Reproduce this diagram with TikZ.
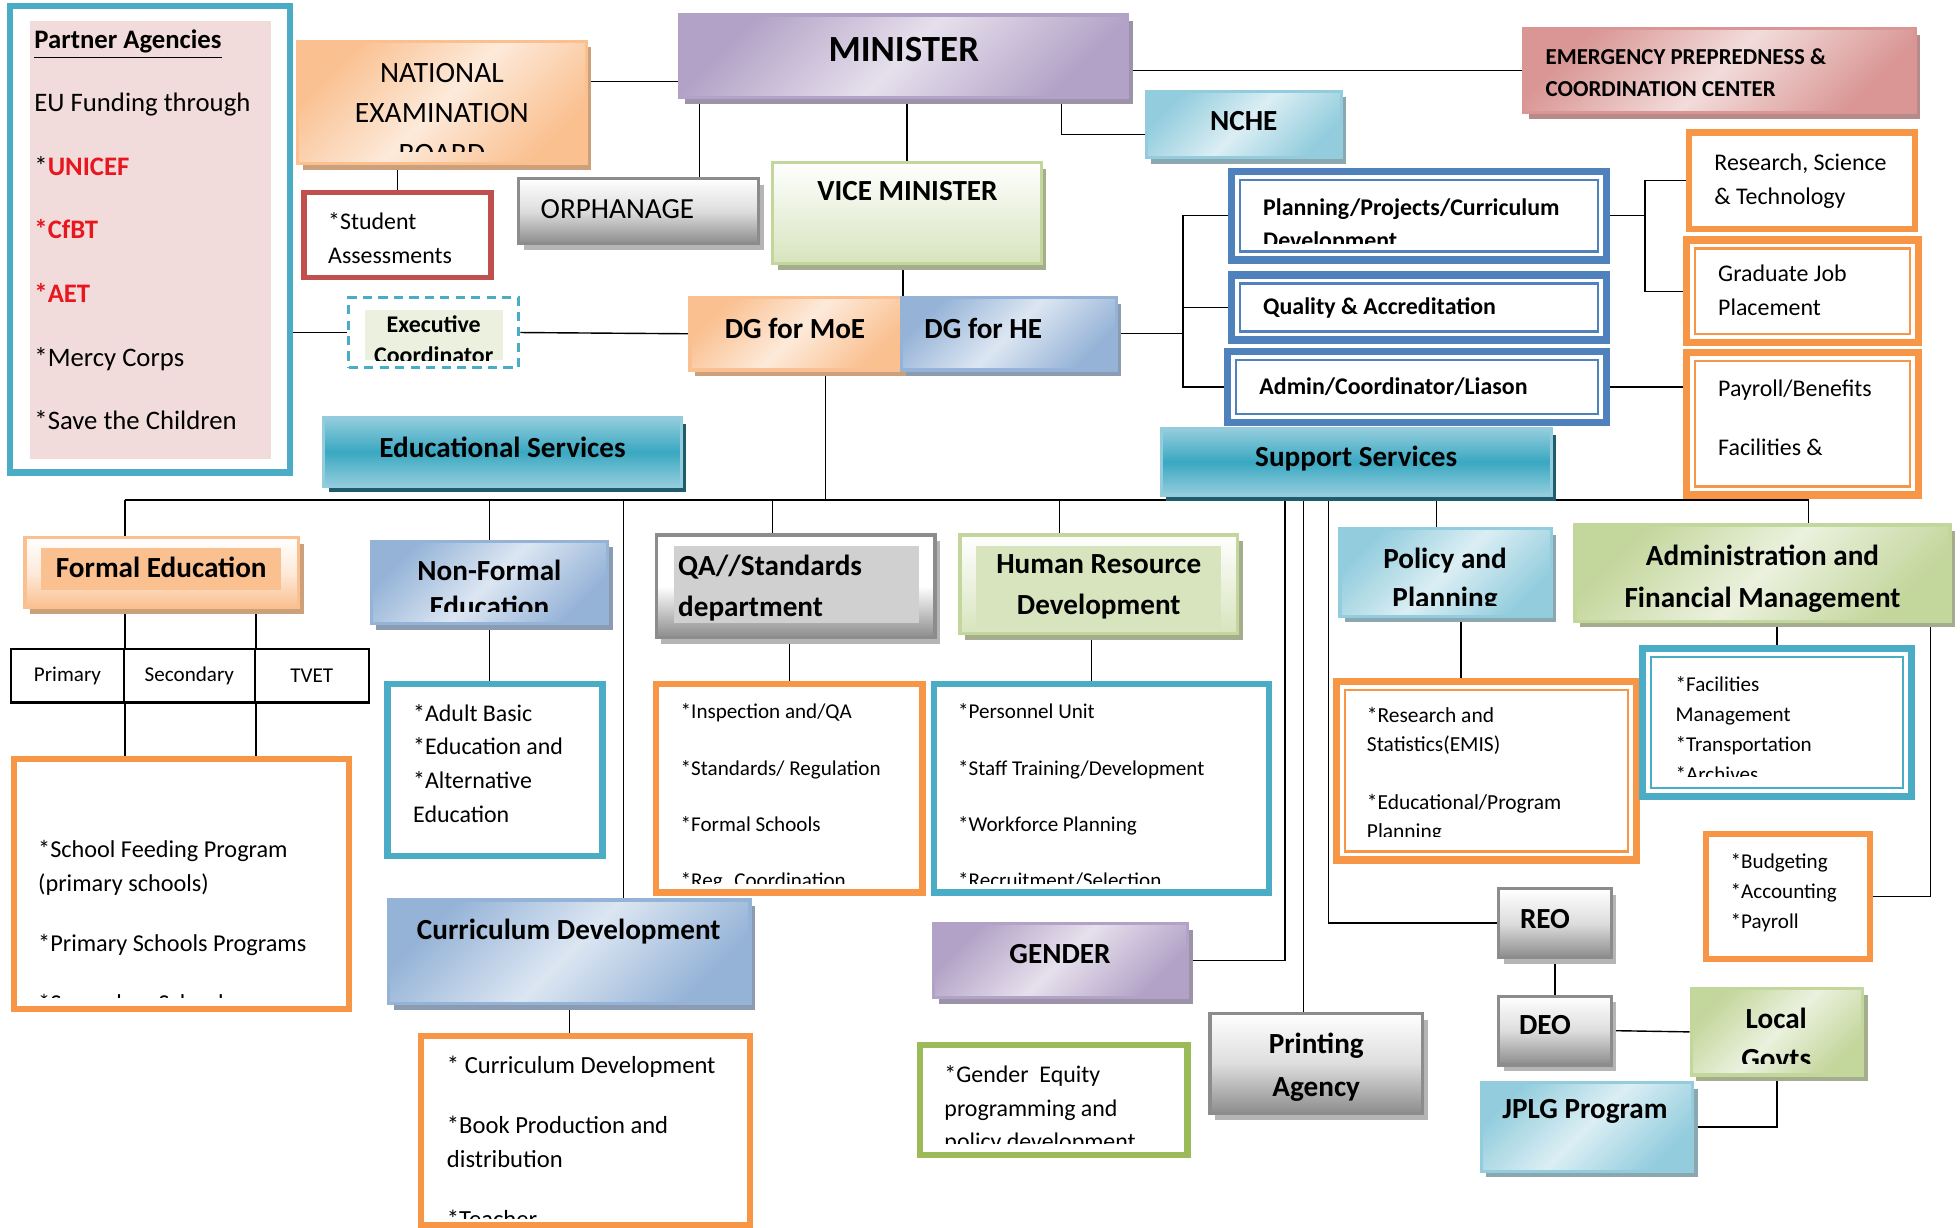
\documentclass[tikz,border=0pt]{standalone}
\usepackage{fontspec}
\setmainfont{Carlito}
\usetikzlibrary{positioning,shadows,backgrounds}

\definecolor{acc1}{HTML}{4F81BD}
\definecolor{acc2}{HTML}{C0504D}
\definecolor{acc3}{HTML}{9BBB59}
\definecolor{acc5}{HTML}{4BACC6}
\definecolor{acc6}{HTML}{F79646}
\definecolor{org1}{HTML}{FAC090}
\definecolor{org2}{HTML}{FDEADA}
\definecolor{orgs}{HTML}{CDA07C}
\definecolor{pur1}{HTML}{B3A2C7}
\definecolor{pur2}{HTML}{E6E0EC}
\definecolor{purs}{HTML}{9D93A9}
\definecolor{grn1}{HTML}{C3D69B}
\definecolor{grn2}{HTML}{EBF1DE}
\definecolor{grn3}{HTML}{D7E4BD}
\definecolor{grns}{HTML}{A4AE8E}
\definecolor{aq1}{HTML}{93CDDD}
\definecolor{aq2}{HTML}{DBEEF4}
\definecolor{aq3}{HTML}{3AA8C1}
\definecolor{aqs}{HTML}{8BA8B1}
\definecolor{aqd}{HTML}{1F5D6C}
\definecolor{blu1}{HTML}{95B3D7}
\definecolor{blu2}{HTML}{DCE6F2}
\definecolor{blus}{HTML}{8A9BB2}
\definecolor{red1}{HTML}{D99694}
\definecolor{red2}{HTML}{F2DCDB}
\definecolor{reds}{HTML}{B78B8A}
\definecolor{gry1}{HTML}{8C8C8C}
\definecolor{gry2}{HTML}{DDDDDD}
\definecolor{gry3}{HTML}{D0D0D0}
\definecolor{grys}{HTML}{B5B5B5}
\definecolor{pinkbg}{HTML}{F2DCDB}
\definecolor{ured}{HTML}{E8161E}

\newcommand\fsz[2]{\fontsize{#1}{#2}\selectfont}

\tikzset{
  bx/.style 2 args={inner sep=0pt, minimum width=#1*0.125mm, minimum height=#2*0.125mm},
  shd/.style={drop shadow={shadow xshift=0.5mm, shadow yshift=-0.6mm, fill=#1, opacity=1}},
  dgrad/.style n args={4}{draw=#1, line width=0.9pt, left color=#2, right color=#2, middle color=#3, shading angle=45, shd=#4},
  vgrad/.style n args={5}{draw=#1, line width=0.9pt, top color=#2, bottom color=#4, middle color=#3, shd=#5},
  obox/.style={draw=#1, line width=1.8pt, fill=white},
  dbox/.style={draw=#1, line width=2.1pt, fill=white,
    path picture={\draw[#1, line width=0.6pt] ([shift={(0.85mm,-0.85mm)}]path picture bounding box.north west) rectangle ([shift={(-0.85mm,0.85mm)}]path picture bounding box.south east);}},
  cell/.style={draw=black, line width=0.6pt, inner sep=0pt, font=\fsz{6}{7}},
  hd/.style={inner sep=0pt, font=\fsz{8.3}{11}\bfseries},
  tl/.style={inner sep=0pt, align=left, anchor=north west},
  tc/.style={inner sep=0pt, align=center, anchor=north}
}

\begin{document}
\begin{tikzpicture}[x=0.125mm, y=-0.125mm, font=\fsz{6.8}{9.6}]
\useasboundingbox (0,0) rectangle (1568,982);

% partner agencies
\node[bx={224}{373}, draw=acc5, line width=1.8pt, fill=white] (partner) at (120,191.5) {};
\node[bx={193}{350}, fill=pinkbg] (pin) at (120.5,192) {};
\node[tl, font=\fsz{7.6}{18.1}] (plist) at (27,22.9) {\underline{\textbf{Partner Agencies}}\\EU Funding through\\{}*\textcolor{ured}{\textbf{UNICEF}}\\\textcolor{ured}{\textbf{*CfBT}}\\\textcolor{ured}{\textbf{*AET}}\\{}*Mercy Corps\\{}*Save the Children};

% top level
\node[bx={231}{98}, dgrad={org1}{org1}{org2}{orgs}] (neb) at (353.5,82) {};
\begin{scope}
  \clip (240,35) rectangle (467,121);
  \node[tc, font=\fsz{8.4}{11.4}] (nebt) at (353.5,50.4) {NATIONAL\\EXAMINATION\\BOARD};
\end{scope}
\node[bx={358}{66}, dgrad={pur1}{pur1}{pur2}{purs}] (min) at (723,45) {};
\node[inner sep=0pt, font=\fsz{10.5}{12}\bfseries] (mint) at (723,40) {MINISTER};
\node[bx={192}{52}, vgrad={gry1}{white}{gry2}{gry1}{grys}] (orph) at (511,169) {};
\node[inner sep=0pt, anchor=west, font=\fsz{8.3}{10}] (orpht) at (432,167) {ORPHANAGE};
\node[bx={215}{81}, vgrad={grn1}{white}{grn2}{grn3}{grns}] (vm) at (725.5,170.5) {};
\node[hd] (vmt) at (726,153) {VICE MINISTER};
\node[bx={150}{68}, obox=acc2, line width=1.6pt] (sa) at (318,188) {};
\node[tl] (sat) at (262,169.7) {*Student\\Assessments};
\node[bx={136}{56}, draw=acc5, line width=0.9pt, dash pattern=on 2.6pt off 1.8pt, fill=white] (exec) at (347,266) {};
\node[bx={110}{40}, fill=grn2] (execin) at (347,268) {};
\begin{scope}
  \clip (292,248) rectangle (402,288);
  \node[tc, font=\fsz{6.8}{8.9}\bfseries] (exect) at (347,251.7) {Executive\\Coordinator};
\end{scope}
\node[bx={169}{58}, dgrad={org1}{org1}{org2}{orgs}] (dgm) at (636.5,267) {};
\node[hd] (dgmt) at (636,263) {DG for MoE};
\node[bx={172}{58}, dgrad={blu1}{blu1}{blu2}{blus}] (dgh) at (807,267) {};
\node[hd, anchor=west] (dght) at (739,263) {DG for HE};
\node[bx={156}{53}, dgrad={aq1}{aq1}{aq2}{aqs}] (nche) at (995,99.5) {};
\node[hd] (ncht) at (995,97) {NCHE};
\node[bx={313}{67}, dgrad={red1}{red1}{red2}{reds}] (emg) at (1375.5,56.5) {};
\node[tl, font=\fsz{6.5}{9.2}\bfseries] (emgt) at (1236,38.1) {EMERGENCY PREPREDNESS \&\\COORDINATION CENTER};

% higher education
\node[bx={300}{71}, dbox=acc1] (plan) at (1135,172.5) {};
\begin{scope}
  \clip (993,145) rectangle (1277,195);
  \node[tl, font=\fsz{6.8}{9.2}\bfseries] (plant) at (1010,158.7) {Planning/Projects/Curriculum\\Development};
\end{scope}
\node[bx={300}{52}, dbox=acc1] (qual) at (1135,246) {};
\node[inner sep=0pt, anchor=west, font=\fsz{6.8}{9}\bfseries] (qualt) at (1010,246) {Quality \& Accreditation};
\node[bx={303}{57}, dbox=acc1] (adm) at (1133.5,309.5) {};
\node[inner sep=0pt, anchor=west, font=\fsz{6.8}{9}\bfseries] (admt) at (1007,309) {Admin/Coordinator/Liason};
\node[bx={181}{77}, obox=acc6] (rst) at (1441.5,144.5) {};
\node[tl] (rstt) at (1371,122.7) {Research, Science\\\& Technology};
\node[bx={186}{82}, dbox=acc6] (gjp) at (1442,233) {};
\node[tl] (gjpt) at (1374,211.7) {Graduate Job\\Placement};
\node[bx={186}{114}, dbox=acc6] (pay) at (1442,339) {};
\node[tl, font=\fsz{6.8}{16.7}] (payt) at (1374,303.7) {Payroll/Benefits\\Facilities \&};

% services
\node[bx={286}{55}, vgrad={aq1}{aq1}{aq3}{aq1}{aqd}] (edu) at (402,361.5) {};
\node[hd] (edut) at (402,358) {Educational Services};
\node[bx={312}{53}, vgrad={aq1}{aq1}{aq3}{aq1}{aqd}] (sup) at (1085,369.5) {};
\node[hd] (supt) at (1085,367) {Support Services};

% formal education
\node[bx={219}{56}, vgrad={org1}{white}{org2}{org1}{orgs}] (fe) at (129.5,458) {};
\node[bx={192}{34}, fill=org1] (fein) at (129,455) {};
\node[hd] (fet) at (129,454) {Formal Education};
\node[bx={90}{43}, cell] (prim) at (54,540.5) {Primary};
\node[bx={105}{43}, cell] (sec) at (151.5,540.5) {Secondary};
\node[bx={91}{43}, cell] (tvet) at (249.5,540.5) {TVET};
\node[bx={268}{200}, obox=acc6] (sf) at (145,707) {};
\begin{scope}
  \clip (19,615) rectangle (271,798);
  \node[tl, font=\fsz{6.9}{9.6}] (sft) at (30,671.6) {*School Feeding Program\\(primary schools)\\[7.5pt]*Primary Schools Programs\\[7.5pt]*Secondary Schools};
\end{scope}

% non-formal education
\node[bx={189}{66}, dgrad={blu1}{blu1}{blu2}{blus}] (nfe) at (391.5,466) {};
\begin{scope}
  \clip (300,436) rectangle (483,489);
  \node[tc, font=\fsz{8.3}{10.3}\bfseries] (nfet) at (391.5,447.1) {Non-Formal\\Education};
\end{scope}
\node[bx={172}{138}, obox=acc5] (adult) at (396,616) {};
\node[tl] (adultt) at (330,562.7) {*Adult Basic\\{}*Education and\\{}*Alternative\\Education};

% quality assurance
\node[bx={223}{82}, vgrad={gry1}{white}{white}{gry1}{grys}] (qa) at (636.5,469) {};
\node[bx={196}{61}, fill=gry3] (qain) at (637,467.5) {};
\node[tl, font=\fsz{8.3}{11.7}\bfseries] (qat) at (542,443.1) {QA//Standards\\department};
\node[bx={213}{167}, obox=acc6] (insp) at (631.5,630.5) {};
\begin{scope}
  \clip (533,555) rectangle (730,707);
  \node[tl, font=\fsz{6}{16}] (inspt) at (544,562.6) {*Inspection and/QA\\{}*Standards/ Regulation\\{}*Formal Schools\\{}*Reg. Coordination};
\end{scope}

% human resources
\node[bx={222}{79}, vgrad={grn1}{white}{grn2}{grn3}{grns}] (hrd) at (879,467.5) {};
\node[bx={196}{66}, fill=grn3] (hrdin) at (879,470) {};
\node[tc, font=\fsz{8.3}{11.7}\bfseries] (hrdt) at (879,443.1) {Human Resource\\Development};
\node[bx={268}{167}, obox=acc5] (pers) at (881,630.5) {};
\begin{scope}
  \clip (755,555) rectangle (1007,707);
  \node[tl, font=\fsz{6}{16}] (perst) at (766,562.6) {*Personnel Unit\\{}*Staff Training/Development\\{}*Workforce Planning\\{}*Recruitment/Selection};
\end{scope}

% curriculum
\node[bx={289}{83}, dgrad={blu1}{blu1}{blu2}{blus}] (cd) at (455.5,761.5) {};
\node[hd] (cdt) at (455,745) {Curriculum Development};
\node[bx={263}{151}, obox=acc6] (cdl) at (468.5,904.5) {};
\begin{scope}
  \clip (345,837) rectangle (592,975);
  \node[tl, font=\fsz{7}{9.6}] (cdlt) at (357,844.5) {* Curriculum Development\\[7.5pt]*Book Production and\\distribution\\[7.5pt]*Teacher};
\end{scope}

% gender and printing
\node[bx={203}{59}, dgrad={pur1}{pur1}{pur2}{purs}] (gen) at (848.5,768.5) {};
\node[hd] (gent) at (848,763) {GENDER};
\node[bx={214}{88}, obox=acc3] (genl) at (843,880) {};
\begin{scope}
  \clip (744,844) rectangle (942,915);
  \node[tl] (genlt) at (755,851.7) {*Gender\ \ Equity\\programming and\\policy development};
\end{scope}
\node[bx={170}{80}, vgrad={gry1}{white}{gry2}{gry1}{grys}] (prt) at (1053,851) {};
\node[tc, font=\fsz{8.3}{12.1}\bfseries] (prtt) at (1053,826.1) {Printing\\Agency};

% policy and planning
\node[bx={169}{70}, dgrad={aq1}{aq1}{aq2}{aqs}] (pol) at (1156.5,458) {};
\begin{scope}
  \clip (1075,426) rectangle (1238,484);
  \node[tc, font=\fsz{8.3}{11}\bfseries] (polt) at (1156,438.1) {Policy and\\Planning};
\end{scope}
\node[bx={240}{143}, dbox=acc6] (res) at (1189,616.5) {};
\begin{scope}
  \clip (1077,553) rectangle (1301,669);
  \node[tl, font=\fsz{6.1}{8.2}] (rest) at (1093,565.5) {*Research and\\Statistics(EMIS)\\[8.2pt]*Educational/Program\\Planning};
\end{scope}

% administration and finance
\node[bx={300}{77}, dgrad={grn1}{grn1}{grn2}{grns}] (afm) at (1410,458.5) {};
\node[tc, font=\fsz{8.3}{12.1}\bfseries] (afmt) at (1410,435.1) {Administration and\\Financial Management};
\node[bx={215}{118}, dbox=acc5] (fac) at (1421.5,578) {};
\begin{scope}
  \clip (1322,527) rectangle (1521,621);
  \node[tl, font=\fsz{6}{8.5}] (fact) at (1340,540.6) {*Facilities\\Management\\{}*Transportation\\{}*Archives};
\end{scope}
\node[bx={131}{100}, obox=acc6] (bud) at (1430.5,717) {};
\node[tl, font=\fsz{6}{8.5}] (budt) at (1384,682.6) {*Budgeting\\{}*Accounting\\{}*Payroll};

% regions and districts
\node[bx={90}{55}, vgrad={gry1}{white}{gry2}{gry1}{grys}] (reo) at (1244,738.5) {};
\node[hd] (reot) at (1236,735) {REO};
\node[bx={90}{55}, vgrad={gry1}{white}{gry2}{gry1}{grys}] (deo) at (1244,824.5) {};
\node[hd] (deot) at (1236,820) {DEO};
\node[bx={137}{69}, dgrad={grn1}{grn1}{grn2}{grns}] (lg) at (1421.5,825.5) {};
\begin{scope}
  \clip (1356,794) rectangle (1487,851);
  \node[tc, font=\fsz{8.3}{11.4}\bfseries] (lgt) at (1421,806.1) {Local\\Govts};
\end{scope}
\node[bx={169}{71}, dgrad={aq1}{aq1}{aq2}{aqs}] (jplg) at (1269.5,901.5) {};
\node[hd] (jplgt) at (1268,889) {JPLG Program};

% connectors
\begin{scope}[on background layer, line width=0.7pt, black!85]
  \draw ([yshift=-2.5mm]min.west) -- ([yshift=-2.5mm]min.west -| neb.east);
  \draw ([xshift=2.1mm]min.south west) -- ([xshift=2.1mm]min.south west |- orph.north);
  \draw (vm.north) -- (vm.north |- min.south);
  \draw ([xshift=-6.75mm]min.south east) |- ([yshift=-1mm]nche.west);
  \draw (min.east |- emg.west) -- (emg.west);
  \draw (sa.north) -- (sa.north |- neb.south);
  \draw (partner.east |- exec.west) -- (exec.west);
  \draw (exec.east) -- (dgm.west);
  \draw (dgm.north east) -- (dgm.north east |- vm.south);
  \coordinate (hej) at ([xshift=6.5mm]dgh.east);
  \draw (dgh.east) -- (hej);
  \draw (plan.west) -| (hej |- adm.west) -- (adm.west);
  \draw (qual.west) -- (qual.west -| hej);
  \coordinate (rj) at ([xshift=3.5mm]plan.east);
  \draw (plan.east) -- (rj);
  \draw (rst.west) -| (rj |- gjp.west) -- (gjp.west);
  \draw (adm.east) -- (adm.east -| pay.west);
  % main bus
  \coordinate (bus) at (0,400);
  \draw ([xshift=3mm]dgm.south) -- ([xshift=3mm]dgm.south |- bus);
  \draw (prim.north east |- bus) -- ([xshift=4.6mm]afm.north |- bus) -- ([xshift=4.6mm]afm.north);
  \draw (prim.north east |- bus) -- (prim.north east |- fe.north);
  \draw (prim.north east |- fe.south) -- (prim.north east);
  \draw (sec.north east |- fe.south) -- (sec.north east);
  \draw (prim.south east) -- (prim.south east |- sf.north);
  \draw (sec.south east) -- (sec.south east |- sf.north);
  \draw (nfe.north) -- (nfe.north |- bus);
  \draw (nfe.south) -- (nfe.south |- adult.north);
  \draw ([xshift=5.4mm]cd.north) -- ([xshift=5.4mm]cd.north |- bus);
  \draw (cd.south) -- (cd.south |- cdl.north);
  \draw ([xshift=-2.3mm]qa.north) -- ([xshift=-2.3mm]qa.north |- bus);
  \draw (insp.north) -- (insp.north |- qa.south);
  \draw ([xshift=-3.9mm]hrd.north) -- ([xshift=-3.9mm]hrd.north |- bus);
  \draw ([xshift=-0.75mm]hrd.south) -- ([xshift=-0.75mm]hrd.south |- pers.north);
  \coordinate (busg) at (1028,400);
  \draw (gen.east) -| (busg);
  \draw ([xshift=-1.25mm]prt.north) -- ([xshift=-1.25mm]prt.north |- bus);
  \coordinate (busr) at (1063,400);
  \draw (reo.west) -| (busr);
  \draw ([xshift=-0.9mm]pol.north) -- ([xshift=-0.9mm]pol.north |- bus);
  \draw ([xshift=1.55mm]pol.south) -- ([xshift=1.55mm]pol.south |- res.north);
  \draw (fac.north) -- (fac.north |- afm.south);
  \draw (bud.east) -| ([xshift=-2.1mm]afm.south east);
  \draw (reo.south) -- (deo.north);
  \draw (deo.east) -- (lg.west);
  \draw (lg.south) |- (jplg.east);
\end{scope}
\end{tikzpicture}
\end{document}
